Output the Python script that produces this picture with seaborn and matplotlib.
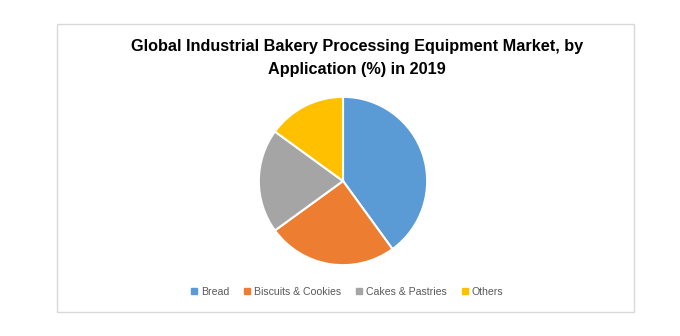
import matplotlib
matplotlib.use("Agg")
import matplotlib.pyplot as plt
import seaborn as sns
from matplotlib.patches import Rectangle
from matplotlib.lines import Line2D

categories = ["Bread", "Biscuits & Cookies", "Cakes & Pastries", "Others"]
shares = [40, 25, 20, 15]
colors = ["#5B9BD5", "#ED7D31", "#A5A5A5", "#FFC000"]
title = "Global Industrial Bakery Processing Equipment Market, by\nApplication (%) in 2019"

sns.set_theme(style="white")
plt.rcParams["font.family"] = ["Liberation Sans", "DejaVu Sans"]

fig = plt.figure(figsize=(6.8, 3.36), dpi=100)
fig.patch.set_facecolor("white")

# outer chart border
fig.patches.append(Rectangle((57/680, 24/336), (634-57)/680, (312-24)/336,
                             transform=fig.transFigure, fill=False,
                             edgecolor="#D9D9D9", linewidth=1.0))

ax = fig.add_axes([(343-85)/680, (336-181-85)/336, 170/680, 170/336])
wedges, _ = ax.pie(shares, colors=colors, startangle=90, counterclock=False,
                   wedgeprops=dict(edgecolor="white", linewidth=1.5))
ax.set_xlim(-1.01, 1.01)
ax.set_ylim(-1.01, 1.01)
ax.set_aspect("equal")
ax.axis("off")

fig.text(357/680, 1 - 58/336, title, ha="center", va="center",
         fontsize=11.7, fontweight="bold", color="black", linespacing=1.65)

handles = [Line2D([], [], marker="s", linestyle="none", markersize=4.5,
                  markerfacecolor=c, markeredgecolor=c) for c in colors]
fig.legend(handles, categories, loc="center", bbox_to_anchor=(347/680, 1 - 292/336),
           ncol=4, frameon=False, fontsize=7.6, handlelength=0.6, handletextpad=0.3,
           columnspacing=1.45, labelcolor="#595959")

fig.savefig("out.png", dpi=100, facecolor="white")
